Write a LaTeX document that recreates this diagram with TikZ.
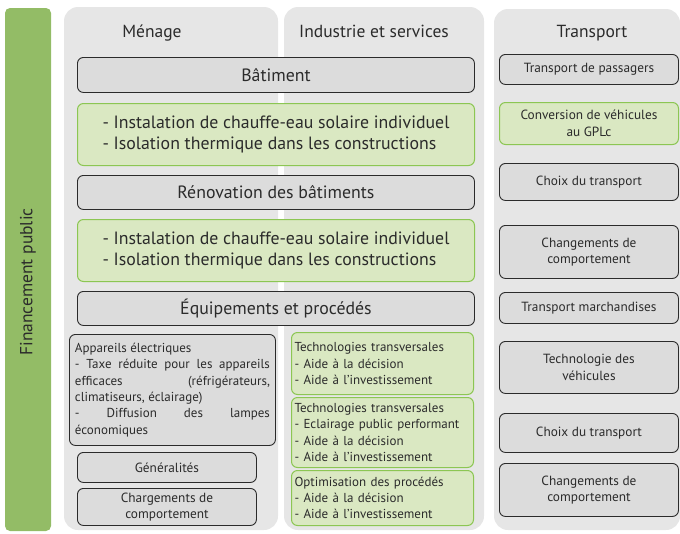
\documentclass[tikz,border=0pt]{standalone}
\usepackage{fontspec}
\setmainfont{PT Sans}
\usetikzlibrary{positioning}

\definecolor{barvert}{HTML}{93BC66}
\definecolor{fondgris}{HTML}{E6E6E6}
\definecolor{boitegris}{HTML}{DCDCDC}
\definecolor{boitevert}{HTML}{DAE8C2}
\definecolor{bordvert}{HTML}{8CC653}
\definecolor{texte}{HTML}{2B2B2B}

\tikzset{
	panneau/.style={fill=fondgris, draw=none, rounded corners=14pt},
	grisbox/.style={draw=texte, fill=boitegris, line width=0.9pt, rounded corners=6pt,
		anchor=north west, align=center, inner sep=2pt, text=texte},
	vertbox/.style={draw=bordvert, fill=boitevert, line width=1pt, rounded corners=6pt,
		anchor=north west, inner sep=2pt, text=texte},
	titre/.style={font=\fontsize{17.5}{20}\selectfont, text=texte},
	grand/.style={font=\fontsize{17.8}{21}\selectfont},
	petit/.style={font=\fontsize{13.3}{16.5}\selectfont},
	moyen/.style={font=\fontsize{13}{16.3}\selectfont},
}

\newcommand{\ligne}[1]{\makebox[195pt][s]{#1}}

\begin{document}
\begin{tikzpicture}[x=1pt, y=-1pt]
	\useasboundingbox (0,0) rectangle (680,533);

	%Financement
	\fill[barvert, rounded corners=5pt] (5,8) rectangle (51,531);
	\node[rotate=90, titre] (fin) at (28,282) {Financement public};

	%Panneaux
	\fill[panneau] (64,7) rectangle (278,530);
	\fill[panneau] (284,7) rectangle (484,530);
	\fill[panneau] (494,9) rectangle (680,530);
	\node[titre, anchor=base] (menage) at (152,37) {Ménage};
	\node[titre, anchor=base] (indus) at (374,37) {Industrie et services};
	\node[titre, anchor=base] (transp) at (592,37) {Transport};

	%Ménage + industrie
	\node[grisbox, grand, minimum width=397, minimum height=35] (bat) at (77,57) {Bâtiment};
	\node[vertbox, grand, minimum width=397, minimum height=62, align=left] (sol1) at (77,103)
		{- Instalation de chauffe-eau solaire individuel\\- Isolation thermique dans les constructions};
	\node[grisbox, grand, minimum width=397, minimum height=34] (reno) at (77,175) {Rénovation des bâtiments};
	\node[vertbox, grand, minimum width=397, minimum height=62, align=left] (sol2) at (77,219)
		{- Instalation de chauffe-eau solaire individuel\\- Isolation thermique dans les constructions};
	\node[grisbox, grand, minimum width=397, minimum height=34] (equip) at (77,291) {Équipements et procédés};

	\node[grisbox, moyen, minimum width=206, minimum height=111, align=left, inner sep=4pt] (appar) at (69,334)
		{Appareils électriques\\
		\ligne{- Taxe réduite pour les appareils}\\
		\ligne{efficaces \hfill (réfrigérateurs,}\\
		climatiseurs, éclairage)\\
		\ligne{- \hfill Diffusion \hfill des \hfill lampes}\\
		économiques};
	\node[grisbox, petit, minimum width=179, minimum height=30] (gen) at (77,452) {Généralités};
	\node[grisbox, petit, minimum width=179, minimum height=37] (charg) at (77,488)
		{Chargements de\\comportement};

	\node[vertbox, moyen, minimum width=182, minimum height=62, align=left, text width=176] (tech1) at (291,332)
		{Technologies transversales\\- Aide à la décision\\- Aide à l’investissement};
	\node[vertbox, moyen, minimum width=182, minimum height=70, align=left, text width=176] (tech2) at (291,397)
		{Technologies transversales\\- Eclairage public performant\\- Aide à la décision\\- Aide à l’investissement};
	\node[vertbox, moyen, minimum width=182, minimum height=55, align=left, text width=176] (optim) at (291,470)
		{Optimisation des procédés\\- Aide à la décision\\- Aide à l’investissement};

	%Transport
	\node[grisbox, petit, minimum width=179, minimum height=30] (pass) at (499,54) {Transport de passagers};
	\node[vertbox, petit, minimum width=179, minimum height=42, align=center] (gpl) at (499,102)
		{Conversion de véhicules\\au GPLc};
	\node[grisbox, petit, minimum width=179, minimum height=37] (choix1) at (499,163) {Choix du transport};
	\node[grisbox, petit, minimum width=179, minimum height=53] (comp1) at (499,225)
		{Changements de\\comportement};
	\node[grisbox, petit, minimum width=179, minimum height=31] (march) at (499,292) {Transport marchandises};
	\node[grisbox, petit, minimum width=179, minimum height=52] (vehic) at (499,341)
		{Technologie des\\véhicules};
	\node[grisbox, petit, minimum width=179, minimum height=39] (choix2) at (499,413) {Choix du transport};
	\node[grisbox, petit, minimum width=179, minimum height=53] (comp2) at (499,463)
		{Changements de\\comportement};
\end{tikzpicture}
\end{document}
